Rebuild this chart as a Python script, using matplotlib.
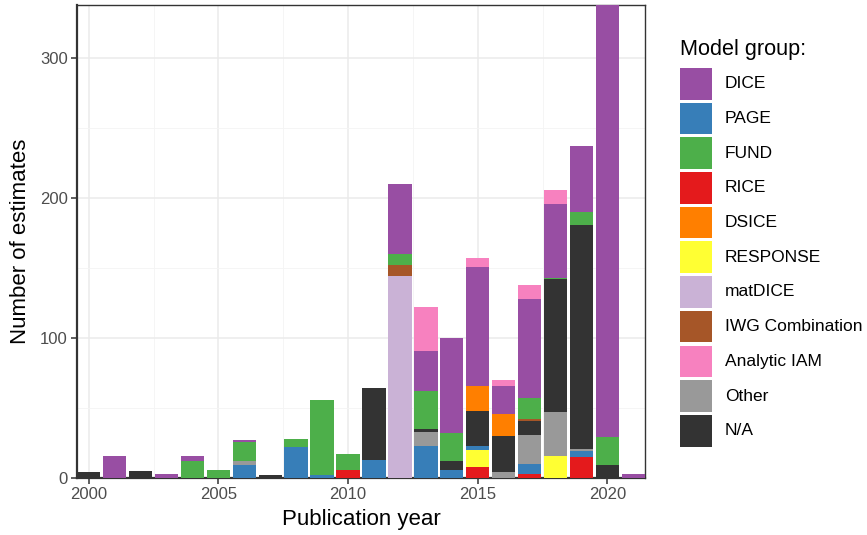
import matplotlib
matplotlib.use("Agg")
import matplotlib.pyplot as plt
from matplotlib.patches import Rectangle
import numpy as np

plt.rcParams['font.family'] = ['Liberation Sans', 'DejaVu Sans']

years = list(range(2000, 2022))

# values per model group, per year 2000..2021
DICE     = [0, 16, 0, 3, 4, 0, 1, 0, 0, 0, 0, 0, 50, 29, 68, 85, 20, 71, 53, 47, 309, 3]
PAGE     = [0, 0, 0, 0, 0, 0, 9, 0, 22, 2, 0, 13, 0, 23, 6, 3, 0, 7, 0, 4, 0, 0]
FUND     = [0, 0, 0, 0, 12, 6, 14, 0, 6, 54, 11, 0, 8, 27, 20, 0, 0, 15, 1, 9, 20, 0]
RICE     = [0, 0, 0, 0, 0, 0, 0, 0, 0, 0, 6, 0, 0, 0, 0, 8, 0, 3, 0, 15, 0, 0]
DSICE    = [0, 0, 0, 0, 0, 0, 0, 0, 0, 0, 0, 0, 0, 0, 0, 18, 16, 0, 0, 0, 0, 0]
RESPONSE = [0, 0, 0, 0, 0, 0, 0, 0, 0, 0, 0, 0, 0, 0, 0, 12, 0, 0, 16, 0, 0, 0]
matDICE  = [0, 0, 0, 0, 0, 0, 0, 0, 0, 0, 0, 0, 144, 0, 0, 0, 0, 0, 0, 0, 0, 0]
IWG      = [0, 0, 0, 0, 0, 0, 0, 0, 0, 0, 0, 0, 8, 0, 0, 0, 0, 1, 0, 0, 0, 0]
Analytic = [0, 0, 0, 0, 0, 0, 0, 0, 0, 0, 0, 0, 0, 31, 0, 6, 4, 10, 10, 0, 0, 0]
Other    = [0, 0, 0, 0, 0, 0, 3, 0, 0, 0, 0, 0, 0, 10, 0, 0, 4, 21, 31, 2, 0, 0]
NA       = [4, 0, 5, 0, 0, 0, 0, 2, 0, 0, 0, 51, 0, 2, 6, 25, 26, 10, 95, 160, 9, 0]

legend_order = ["DICE", "PAGE", "FUND", "RICE", "DSICE", "RESPONSE", "matDICE",
                "IWG Combination", "Analytic IAM", "Other", "N/A"]
colors = ["#984EA3", "#377EB8", "#4DAF4A", "#E41A1C", "#FF7F00", "#FFFF33",
          "#CAB2D6", "#A65628", "#F781BF", "#999999", "#333333"]
series = {"DICE": DICE, "PAGE": PAGE, "FUND": FUND, "RICE": RICE, "DSICE": DSICE,
          "RESPONSE": RESPONSE, "matDICE": matDICE, "IWG Combination": IWG,
          "Analytic IAM": Analytic, "Other": Other, "N/A": NA}
color_map = dict(zip(legend_order, colors))
# stacking from bottom to top
stack_order = ["RICE", "RESPONSE", "PAGE", "Other", "N/A", "matDICE",
               "IWG Combination", "FUND", "DSICE", "DICE", "Analytic IAM"]

W, H = 867, 535
fig = plt.figure(figsize=(W / 100, H / 100), dpi=100)
px_l, px_r, px_t, px_b = 77, 645, 5, 478
ax = fig.add_axes([px_l / W, 1 - px_b / H, (px_r - px_l) / W, (px_b - px_t) / H])

x = np.array(years)
bottom = np.zeros(len(years))
for name in stack_order:
    vals = np.array(series[name], dtype=float)
    ax.bar(x, vals, bottom=bottom, width=0.9, color=color_map[name],
           linewidth=0, zorder=3)
    bottom += vals

ax.set_xlim(1999.55, 2021.45)
ax.set_ylim(0, bottom.max())

ax.set_xticks([2000, 2005, 2010, 2015, 2020])
ax.set_xticks([2002.5, 2007.5, 2012.5, 2017.5], minor=True)
ax.set_yticks([0, 100, 200, 300])
ax.set_yticks([50, 150, 250], minor=True)
ax.grid(which='major', color='#EBEBEB', linewidth=1.1, zorder=0)
ax.grid(which='minor', color='#F4F4F4', linewidth=0.6, zorder=0)
ax.set_axisbelow(True)
for s in ax.spines.values():
    s.set_color('#333333')
    s.set_linewidth(1.0)
ax.spines['left'].set_linewidth(1.6)
ax.spines['bottom'].set_linewidth(1.6)
ax.tick_params(which='major', length=4.5, width=1.1, color='#333333',
               labelsize=12, labelcolor='#4D4D4D', pad=2)
ax.tick_params(which='minor', length=0)

ax.set_xlabel("Publication year", fontsize=16, color='black')
ax.xaxis.set_label_coords(0.5, -(519 - px_b) / (px_b - px_t))
ax.xaxis.label.set_va('center')
ax.set_ylabel("Number of estimates", fontsize=16, color='black')
ax.yaxis.set_label_coords(-(px_l - 21) / (px_r - px_l), 0.5)
ax.yaxis.label.set_va('center')

# legend drawn as figure artists
fig.text(680 / W, 1 - 55 / H, "Model group:", fontsize=15.6, color='black',
         ha='left', va='baseline')
key_x, key_w, key_top0, key_h, pitch = 680, 32, 68, 31.5, 34.7
for i, (lab, col) in enumerate(zip(legend_order, colors)):
    top = key_top0 + i * pitch
    fig.add_artist(Rectangle((key_x / W, 1 - (top + key_h) / H), key_w / W, key_h / H,
                             transform=fig.transFigure, facecolor=col,
                             edgecolor='none'))
    fig.text(725 / W, 1 - (top + key_h / 2) / H, lab, fontsize=12.5,
             color='black', ha='left', va='center')

fig.savefig("out.png", dpi=100)
